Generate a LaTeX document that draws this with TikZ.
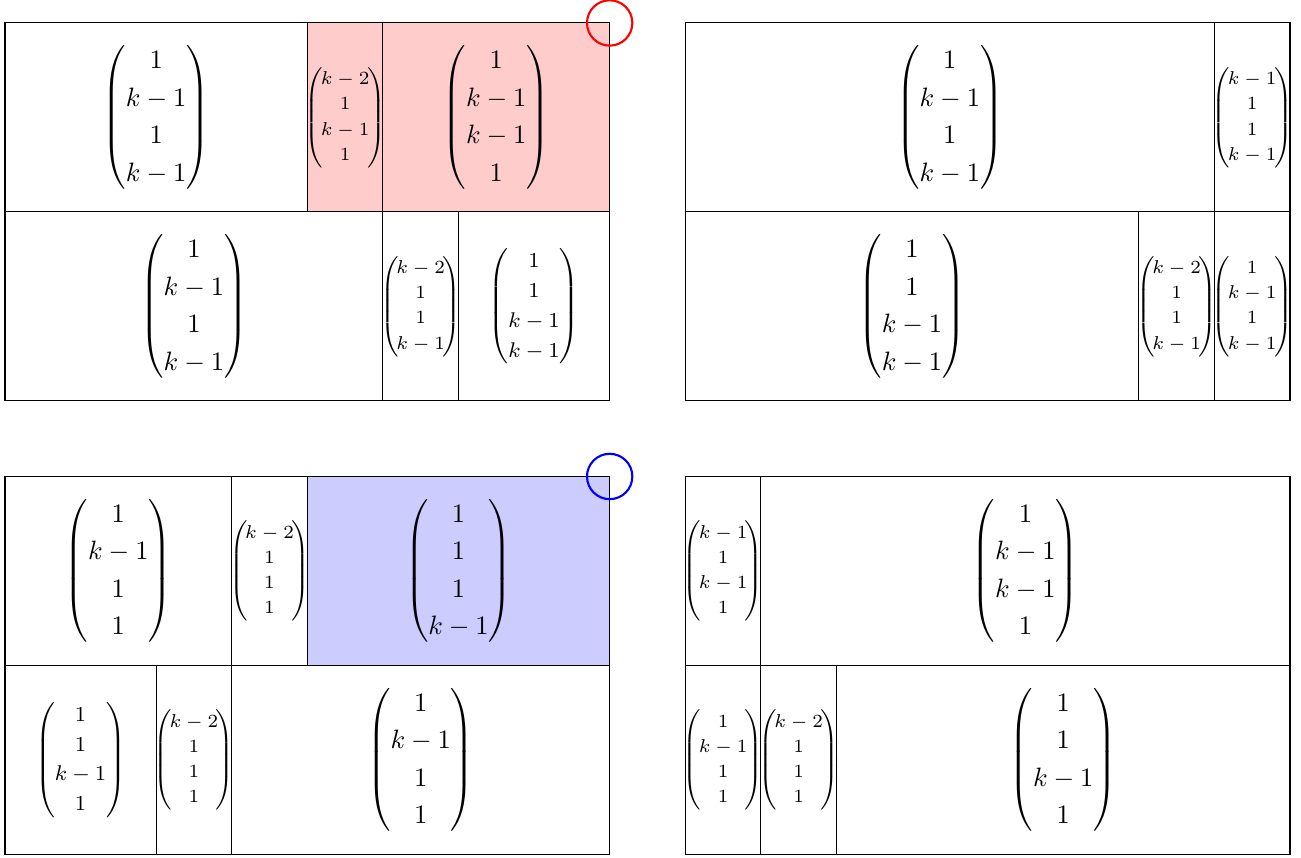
\documentclass[tikz,border=0pt]{standalone}
\usepackage{amsmath,amssymb}
\renewcommand{\arraystretch}{1.18}
\newcommand{\pk}{}
\newcommand{\tinyvec}{\scriptsize\renewcommand{\pk}{\mkern-2mu}}
\begin{document}
\begin{tikzpicture}
        \useasboundingbox(-0.066,-0.04)rectangle(17.146,11.304);
        \fill[red!20](4,8.5)rectangle(8,11);
        \fill[blue!20](4,2.5)rectangle(8,5);
        % four boards
        \foreach \x/\y in {0/6, 9/6, 0/0, 9/0}{
            \draw(\x,\y)rectangle(\x+8,\y+5);
            \draw(\x,\y+2.5)--++(8,0);
        }
        \draw(4,8.5)--(4,11);
        \draw(5,6)--(5,11);
        \draw(6,6)--(6,8.5);
        \draw(16,6)--(16,11);
        \draw(15,6)--(15,8.5);
        \draw(3,0)--(3,5);
        \draw(4,2.5)--(4,5);
        \draw(2,0)--(2,2.5);
        \draw(10,0)--(10,5);
        \draw(11,0)--(11,2.5);
        \foreach \x/\y/\f/\a/\b/\c/\d [count=\i] in {
        2/9.75/\normalsize/1/k-1/1/k-1,
        4.5/9.75/\tinyvec/k-2/1/k-1/1,
        6.5/9.75/\normalsize/1/k-1/k-1/1,
        2.5/7.25/\normalsize/1/k-1/1/k-1,
        5.5/7.25/\tinyvec/k-2/1/1/k-1,
        7/7.25/\footnotesize/1/1/k-1/k-1,
        12.5/9.75/\normalsize/1/k-1/1/k-1,
        16.5/9.75/\tinyvec/k-1/1/1/k-1,
        12/7.25/\normalsize/1/1/k-1/k-1,
        15.5/7.25/\tinyvec/k-2/1/1/k-1,
        16.5/7.25/\tinyvec/1/k-1/1/k-1,
        1.5/3.75/\normalsize/1/k-1/1/1,
        3.5/3.75/\tinyvec/k-2/1/1/1,
        6/3.75/\normalsize/1/1/1/k-1,
        1/1.25/\footnotesize/1/1/k-1/1,
        2.5/1.25/\tinyvec/k-2/1/1/1,
        5.5/1.25/\normalsize/1/k-1/1/1,
        9.5/3.75/\tinyvec/k-1/1/k-1/1,
        13.5/3.75/\normalsize/1/k-1/k-1/1,
        9.5/1.25/\tinyvec/1/k-1/1/1,
        10.5/1.25/\tinyvec/k-2/1/1/1,
        14/1.25/\normalsize/1/1/k-1/1}{
            \draw(\x,\y)node(v\i)[font=\f]{$\left(\pk\begin{matrix}\a\\\b\\\c\\\d\end{matrix}\pk\right)$};
        }
        \draw[thick,red](8,11)circle(0.3);
        \draw[thick,blue](8,5)circle(0.3);
    \end{tikzpicture}
\end{document}
